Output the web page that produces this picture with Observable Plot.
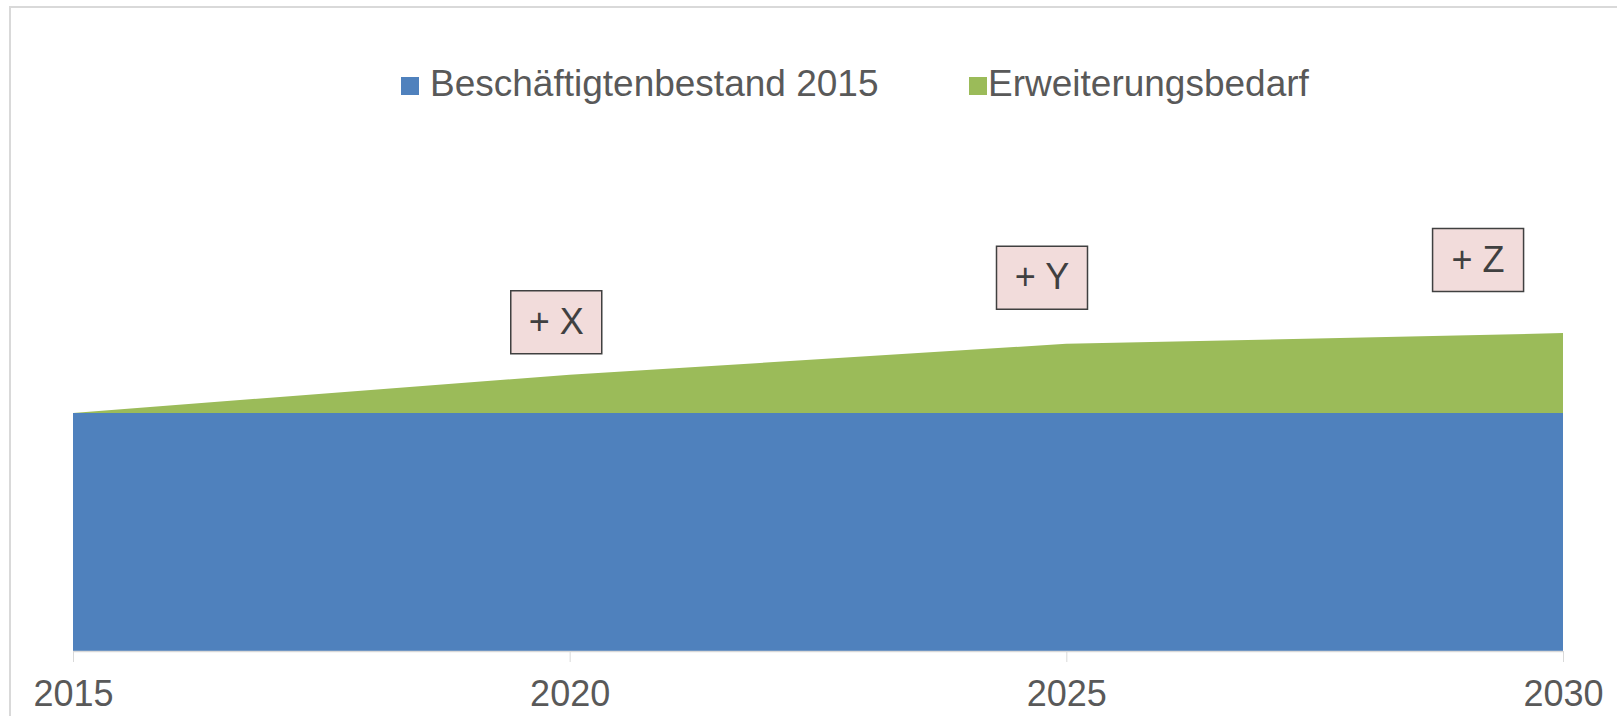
<!DOCTYPE html>
<html>
<head>
<meta charset="utf-8">
<script src="https://cdn.jsdelivr.net/npm/d3@7"></script>
<script src="https://cdn.jsdelivr.net/npm/@observablehq/plot@0.6"></script>
<style>
  html, body { margin: 0; padding: 0; background: #fff; }
  #wrap { position: relative; width: 1617px; height: 716px; overflow: hidden; font-family: "Liberation Sans", Arial, sans-serif; }
  #legend { position: relative; height: 110px; }
  .sw { position: absolute; top: 77px; width: 18px; height: 18px; }
  .lt { position: absolute; top: 66px; font-size: 37px; line-height: 36px; color: #595959; white-space: nowrap; }
  #frame { position: absolute; left: 9px; top: 6px; width: 1700px; height: 800px; border-left: 2px solid #d9d9d9; border-top: 2px solid #d9d9d9; pointer-events: none; z-index: 2; }
</style>
</head>
<body>
<div id="wrap">
  <div id="legend"></div>
  <div id="chart"></div>
  <div id="frame"></div>
</div>
<script>
const years = [2015, 2020, 2025, 2030];
const seriesNames = ["Beschäftigtenbestand 2015", "Erweiterungsbedarf"];
const seriesColors = ["#4f81bd", "#9bbb59"];
const bestand = [100, 100, 100, 100];
const erweiterung = [0, 16, 29, 33.5];

const labelText = ["+ X", "+ Y", "+ Z"];
const labelYear = [2019.86, 2024.75, 2029.14];
const labelValue = [138.3, 157.0, 164.4];

const data = [];
years.forEach((yr, i) => data.push({year: yr, series: seriesNames[0], value: bestand[i]}));
years.forEach((yr, i) => data.push({year: yr, series: seriesNames[1], value: erweiterung[i]}));

const annot = labelText.map((t, i) => ({text: t, x: labelYear[i], y: labelValue[i]}));

// legend (HTML)
const legend = document.getElementById("legend");
const legendPos = [{sw: 401, tx: 430}, {sw: 969, tx: 988}];
seriesNames.forEach((name, i) => {
  const s = document.createElement("div");
  s.className = "sw";
  s.style.left = legendPos[i].sw + "px";
  s.style.background = seriesColors[i];
  legend.appendChild(s);
  const t = document.createElement("div");
  t.className = "lt";
  t.style.left = legendPos[i].tx + "px";
  t.textContent = name;
  legend.appendChild(t);
});

const boxSymbol = {
  draw(context) {
    context.moveTo(-45.5, -31.5);
    context.lineTo(45.5, -31.5);
    context.lineTo(45.5, 31.5);
    context.lineTo(-45.5, 31.5);
    context.closePath();
  }
};

const chart = Plot.plot({
  width: 1617,
  height: 606,
  marginLeft: 73,
  marginRight: 54,
  marginTop: 10,
  marginBottom: 65,
  style: {fontFamily: "'Liberation Sans', Arial, sans-serif", fontSize: "36px", background: "transparent", overflow: "visible"},
  x: {domain: [2015, 2030], axis: null},
  y: {domain: [0, 223], axis: null},
  color: {domain: seriesNames, range: seriesColors},
  marks: [
    Plot.areaY(data, {x: "year", y: "value", fill: "series", z: "series", curve: "linear"}),
    Plot.ruleY([0], {stroke: "#d9d9d9", strokeWidth: 1.5}),
    Plot.axisX({
      ticks: years,
      tickFormat: d => String(d),
      tickSize: 11,
      tickPadding: 18,
      stroke: "#d9d9d9",
      fill: "#595959",
      fontSize: 36
    }),
    Plot.dot(annot, {x: "x", y: "y", symbol: boxSymbol, r: 10, fill: "#f2dcdb", stroke: "#404040", strokeWidth: 1.5}),
    Plot.text(annot, {x: "x", y: "y", text: "text", fontSize: 36, fill: "#404040"})
  ]
});
document.getElementById("chart").appendChild(chart);
</script>
</body>
</html>
